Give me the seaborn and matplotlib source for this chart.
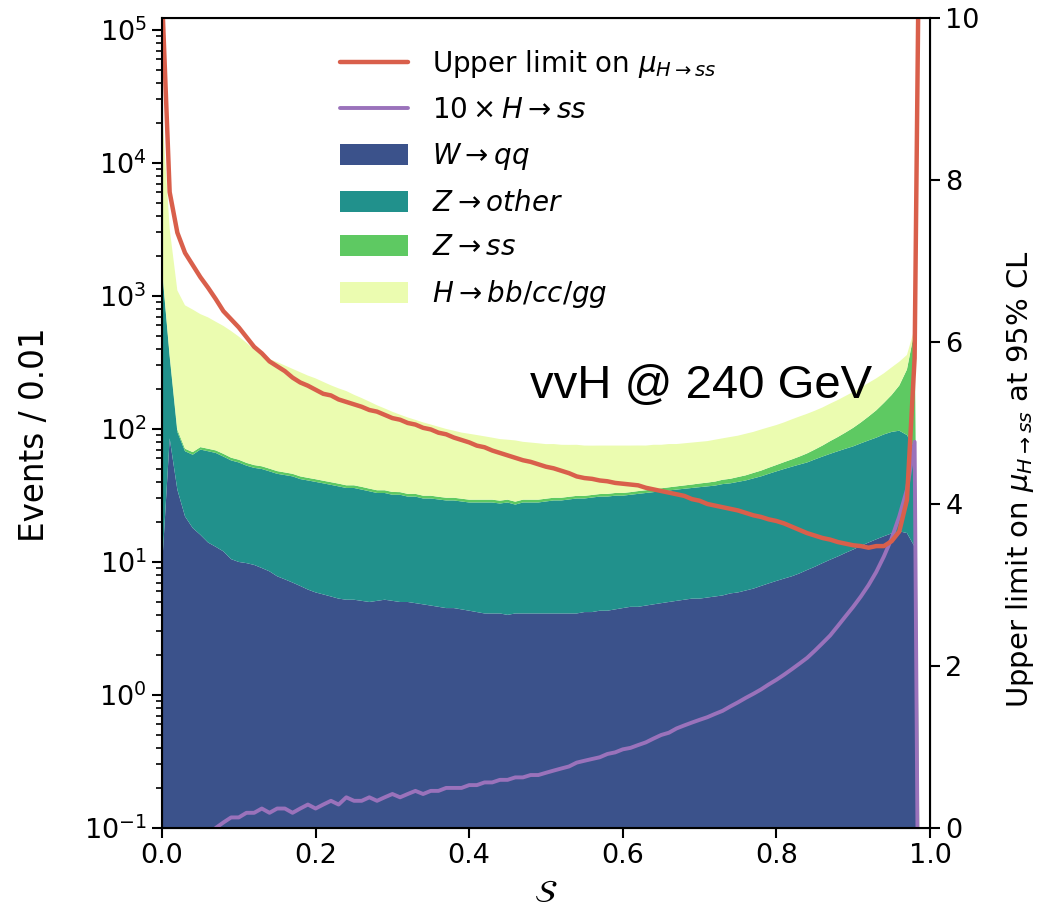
import numpy as np
import matplotlib
matplotlib.use("Agg")
import matplotlib.pyplot as plt
import seaborn as sns

# score bins (left edges, width 0.01)
score = np.round(np.arange(100) * 0.01, 2)

w_qq = [9, 85, 35, 22, 18, 16, 14, 13, 12, 10.5,
        10, 9.8, 9.5, 9.0, 8.5, 7.8, 7.4, 7.0, 6.6, 6.2,
        5.9, 5.7, 5.5, 5.3, 5.2, 5.2, 5.1, 5.0, 5.1, 5.2,
        5.1, 5.0, 5.0, 4.9, 4.8, 4.7, 4.6, 4.5, 4.5, 4.4,
        4.3, 4.2, 4.1, 4.1, 4.1, 4.0, 4.1, 4.1, 4.1, 4.1,
        4.1, 4.1, 4.1, 4.1, 4.1, 4.2, 4.2, 4.3, 4.3, 4.4,
        4.5, 4.6, 4.6, 4.7, 4.8, 4.9, 5.0, 5.1, 5.2, 5.3,
        5.3, 5.4, 5.5, 5.6, 5.8, 5.9, 6.1, 6.3, 6.6, 6.9,
        7.2, 7.5, 7.8, 8.2, 8.7, 9.2, 9.8, 10.4, 11.0, 11.7,
        12.4, 13.2, 14.0, 14.8, 15.6, 16.4, 17.0, 16.5, 13.0, 1e-4]

z_other = [1591, 265, 60, 46, 46, 54, 54, 53, 50, 47.5,
           46, 43.2, 41.5, 41, 39.5, 38.2, 37.6, 37, 35.4, 34.8,
           34.1, 33.3, 32.5, 31.7, 30.8, 30.8, 29.9, 29, 27.9, 27.8,
           26.9, 27, 26, 26.1, 25.2, 25.3, 24.9, 24.5, 24.5, 24.1,
           23.7, 23.8, 23.9, 23.9, 23.4, 24, 22.9, 23.9, 23.9, 23.9,
           24.4, 24.9, 24.9, 25.4, 25.9, 25.8, 26.3, 26.7, 26.7, 27.1,
           27.0, 27.4, 27.9, 28.3, 28.7, 29.1, 29.5, 29.9, 30.3, 30.7,
           31.2, 31.6, 32.0, 32.9, 33.2, 34.1, 34.9, 36.2, 37.4, 39.1,
           40.8, 42.5, 44.2, 45.8, 47.3, 49.8, 52.2, 54.6, 57.0, 59.3,
           61.6, 64.8, 68.0, 71.2, 75.4, 78.6, 80.0, 73.5, 59.0, 1e-4]

z_ss = [30, 12, 4, 3, 3, 3, 3, 3, 3, 2.8,
        2.7, 2.6, 2.5, 2.4, 2.3, 2.2, 2.1, 2.0, 2.0, 1.9,
        1.9, 1.8, 1.8, 1.8, 1.7, 1.7, 1.7, 1.6, 1.6, 1.6,
        1.6, 1.5, 1.5, 1.5, 1.5, 1.5, 1.4, 1.4, 1.4, 1.4,
        1.4, 1.4, 1.4, 1.4, 1.4, 1.4, 1.4, 1.4, 1.4, 1.4,
        1.4, 1.4, 1.4, 1.4, 1.4, 1.4, 1.4, 1.4, 1.5, 1.5,
        1.5, 1.5, 1.6, 1.6, 1.7, 1.8, 1.9, 2.0, 2.1, 2.2,
        2.4, 2.5, 2.7, 3.0, 3.2, 3.5, 3.8, 4.2, 4.6, 5.1,
        5.6, 6.3, 7.0, 8.0, 9.5, 11, 13, 16, 19, 23,
        28, 34, 42, 52, 66, 85, 115, 190, 480, 1e-4]

h_bbccgg = [23370, 2838, 1001, 779, 723, 657, 619, 571, 530, 484,
            436, 389, 341, 308, 285, 270, 253, 237, 223, 209,
            198, 185, 173, 163, 155, 143, 134, 125, 116, 108,
            101, 94.5, 89.5, 84.5, 80.5, 76.5, 73, 69.6, 66.6, 64,
            62.6, 60.6, 58.6, 56.6, 55, 53.6, 53.6, 50.6, 49.6, 48.6,
            47, 46.6, 45.6, 45, 44.6, 43.6, 43, 42.6, 42.5, 42,
            42, 41.5, 41, 40.4, 40.8, 40.2, 40.6, 40, 40.4, 40.8,
            41.1, 41.5, 42.8, 43.5, 44.8, 45.5, 47.2, 48.3, 50.4, 51.9,
            53.4, 55.7, 59, 62, 64.5, 67, 70, 74, 78, 83,
            88, 93, 98, 102, 105, 110, 108, 80, 18, 1e-4]

h_ss_x10 = [0.02, 0.03, 0.04, 0.05, 0.06, 0.07, 0.08, 0.10, 0.11, 0.12,
            0.12, 0.13, 0.13, 0.14, 0.13, 0.14, 0.14, 0.13, 0.14, 0.15,
            0.14, 0.15, 0.16, 0.15, 0.17, 0.16, 0.16, 0.17, 0.16, 0.17,
            0.18, 0.17, 0.18, 0.19, 0.18, 0.19, 0.19, 0.20, 0.20, 0.20,
            0.21, 0.21, 0.22, 0.22, 0.23, 0.23, 0.24, 0.24, 0.25, 0.25,
            0.26, 0.27, 0.28, 0.29, 0.31, 0.32, 0.33, 0.34, 0.36, 0.37,
            0.39, 0.40, 0.42, 0.44, 0.47, 0.50, 0.52, 0.56, 0.59, 0.62,
            0.65, 0.68, 0.72, 0.76, 0.82, 0.88, 0.95, 1.02, 1.10, 1.20,
            1.30, 1.42, 1.56, 1.72, 1.90, 2.15, 2.45, 2.8, 3.3, 3.9,
            4.6, 5.5, 6.7, 8.4, 11, 15, 22, 35, 80, 1e-6]

upper_limit = [10.3, 7.85, 7.35, 7.1, 6.95, 6.8, 6.67, 6.53, 6.38, 6.28,
               6.18, 6.06, 5.94, 5.86, 5.76, 5.70, 5.64, 5.56, 5.50, 5.46,
               5.41, 5.36, 5.34, 5.29, 5.26, 5.23, 5.20, 5.16, 5.14, 5.10,
               5.06, 5.04, 5.00, 4.98, 4.94, 4.92, 4.88, 4.86, 4.82, 4.79,
               4.76, 4.72, 4.70, 4.66, 4.63, 4.60, 4.57, 4.54, 4.52, 4.49,
               4.46, 4.44, 4.41, 4.38, 4.34, 4.32, 4.31, 4.29, 4.28, 4.26,
               4.25, 4.24, 4.23, 4.20, 4.18, 4.16, 4.14, 4.12, 4.10, 4.06,
               4.04, 4.00, 3.98, 3.96, 3.94, 3.92, 3.89, 3.86, 3.84, 3.81,
               3.79, 3.76, 3.72, 3.68, 3.64, 3.61, 3.58, 3.56, 3.53, 3.51,
               3.49, 3.48, 3.46, 3.48, 3.48, 3.54, 3.66, 4.05, 5.8, 15]

labels = [r"$W \rightarrow qq$", r"$Z \rightarrow other$",
          r"$Z \rightarrow ss$", r"$H \rightarrow bb/cc/gg$"]
colors = ["#3b528b", "#21918c", "#5ec962", "#ebfcb0"]
red = "#d95f4b"
purple = "#9a72bb"

sns.set_style("ticks", rc={"axes.edgecolor": "black", "xtick.color": "black",
                           "ytick.color": "black", "text.color": "black",
                           "axes.labelcolor": "black", "axes.linewidth": 1.5})
plt.rcParams["font.family"] = ["DejaVu Sans"]

fig = plt.figure(figsize=(10.58, 9.17), dpi=100)
ax = fig.add_axes([0.1531, 0.0971, 0.7259, 0.8833])
ax.set_yscale("log")

ax.stackplot(score, w_qq, z_other, z_ss, h_bbccgg,
             colors=colors, labels=labels, linewidth=0)
sns.lineplot(x=score, y=h_ss_x10, ax=ax, color=purple, lw=2.8,
             label=r"$10 \times H \rightarrow ss$", legend=False)

ax.set_xlim(0, 1)
ax.set_ylim(0.1, 1.23e5)
ax.set_ylabel("Events / 0.01", fontsize=23.5)
ax.yaxis.set_label_coords(-0.145, 0.485)
ax.set_xlabel(r"$\mathcal{S}$", fontsize=23)
ax.xaxis.set_label_coords(0.5, -0.062)
ax.tick_params(axis="both", which="major", labelsize=19.5, length=7.5, width=1.5)
ax.tick_params(axis="y", which="minor", length=4, width=1.2)
ax.set_xticks([0, 0.2, 0.4, 0.6, 0.8, 1.0])

ax2 = ax.twinx()
sns.lineplot(x=score, y=upper_limit, ax=ax2, color=red, lw=3.2,
             label=r"Upper limit on $\mu_{H\rightarrow ss}$", legend=False)
ax2.set_ylim(0, 10)
ax2.set_yticks([0, 2, 4, 6, 8, 10])
ax2.tick_params(axis="y", labelsize=19.5, length=7.5, width=1.5)
ax2.set_ylabel(r"Upper limit on $\mu_{H\rightarrow ss}$ at 95% CL", fontsize=21)
ax2.yaxis.set_label_coords(1.097, 0.43)
for s in ax2.spines.values():
    s.set_linewidth(1.5)

ax2.text(0.479, 0.531, "vvH @ 240 GeV", transform=ax2.transAxes,
         fontsize=34, family=["Liberation Sans", "DejaVu Sans"],
         ha="left", va="baseline")

h1, l1 = ax.get_legend_handles_labels()
h2, l2 = ax2.get_legend_handles_labels()
handles = h2 + [h1[-1]] + h1[:4]
names = l2 + [l1[-1]] + l1[:4]
ax2.legend(handles, names, loc="upper left", bbox_to_anchor=(0.199, 0.994),
           frameon=False, fontsize=20, labelspacing=0.6, handlelength=2.45,
           handleheight=0.8, handletextpad=0.86)

fig.savefig("out.png", dpi=100)
